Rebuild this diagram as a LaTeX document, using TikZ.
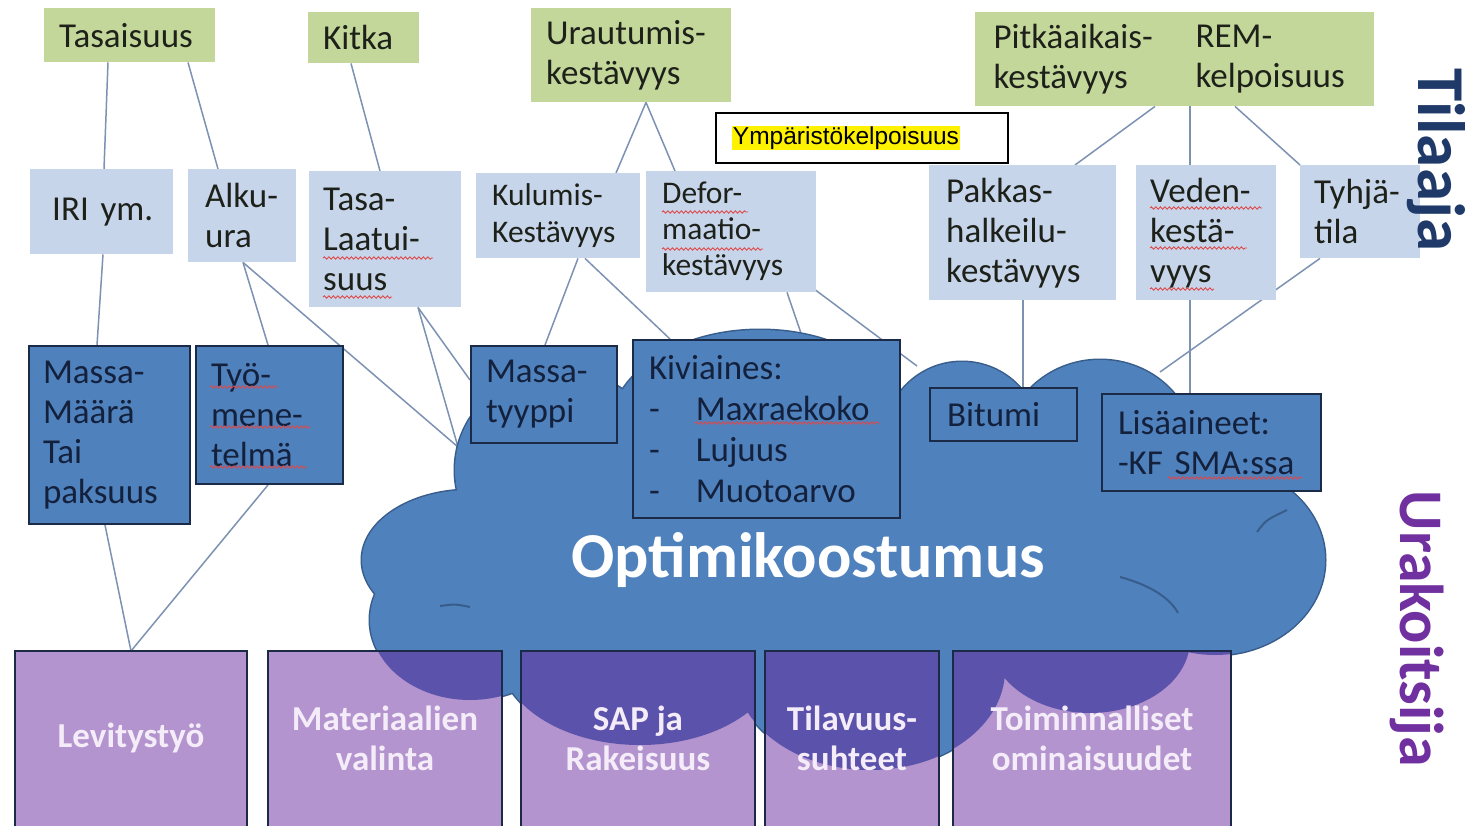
\documentclass[tikz,border=0pt]{standalone}
\usepackage{fontspec}
\setmainfont{Carlito}
\newfontfamily\arialf{Liberation Sans}
\usetikzlibrary{calc,decorations.pathmorphing}
\pgfdeclarelayer{conns}
\pgfdeclarelayer{cloudl}
\pgfsetlayers{conns,cloudl,main}
\definecolor{cgreen}{HTML}{C4D79B}
\definecolor{clblue}{HTML}{C6D5EA}
\definecolor{cblue}{HTML}{4F81BD}
\definecolor{cblueline}{HTML}{385D8A}
\definecolor{cborder}{HTML}{1B2A47}
\definecolor{cline}{HTML}{7D92B3}
\definecolor{cpurple}{HTML}{B394CE}
\definecolor{cpurpledark}{HTML}{5B52AB}
\definecolor{cpurptext}{HTML}{F4ECF8}
\definecolor{ctilaaja}{HTML}{1F3A68}
\definecolor{curak}{HTML}{7030A0}
\definecolor{ctext}{HTML}{1E211A}
\definecolor{cdtext}{HTML}{14213D}
\definecolor{cspell}{HTML}{E04848}
\def\cloudlist{470/560/108/70, 560/470/105/100, 760/430/150/100, 962/440/78/78, 1100/450/95/90, 1215/560/110/95, 1090/640/100/73, 870/670/135/100, 640/655/140/90, 470/620/100/80}
\begin{document}
\begin{tikzpicture}[x=1pt,y=-1pt,
  bx/.style={rectangle, inner ysep=0pt, anchor=north west, align=left, text=ctext},
  f35/.style={font=\fontsize{35}{40}\selectfont},
  f31/.style={font=\fontsize{31.5}{37}\selectfont},
  f31b/.style={font=\fontsize{31.5}{36}\selectfont},
  gbox/.style={bx, fill=cgreen, f35},
  lbox/.style={bx, fill=clblue, f35},
  dbox/.style={bx, fill=cblue, draw=cborder, line width=2pt, text=cdtext, f35},
  pbox/.style={rectangle, inner sep=0pt, anchor=north west, fill=cpurple},
  ptext/.style={align=center, text=cpurptext, font=\bfseries\fontsize{35}{40}\selectfont},
  conn/.style={draw=cline, line width=1.5pt},
  spell/.style={draw=cspell, line width=0.9pt, decorate, decoration={snake, amplitude=1.2pt, segment length=4.5pt}},
]
\begin{pgfonlayer}{conns}
\useasboundingbox (0,0) rectangle (1474,821);
\fill[white] (0,0) rectangle (1474,821);
\end{pgfonlayer}

% ---------- top (green) boxes ----------
\node[gbox, inner xsep=15pt, text width=141pt, minimum height=54pt] (tas) at (44,8) {Tasaisuus};
\node[gbox, inner xsep=15pt, text width=81pt, minimum height=51pt] (kit) at (308,12) {Kitka};
\node[gbox, inner xsep=15pt, text width=170pt, minimum height=94pt] (ura) at (531,8) {Urautumis-\\kestävyys};
\node[gbox, inner xsep=0pt, text width=399pt, minimum height=94pt] (pit) at (975,12) {};
\node[bx, f35, anchor=west] (pitA) at (990,59) {Pitkäaikais-\\kestävyys};
\node[bx, f35, anchor=west] (pitB) at (1192,59) {REM-\\kelpoisuus};

% ---------- Ympäristökelpoisuus ----------
\node[draw=black, line width=2pt, fill=white, anchor=north west, minimum width=292pt, minimum height=50pt, inner sep=0pt] (ymp) at (715,112) {};
\node[fill=yellow, inner xsep=0.5pt, inner ysep=1pt, font=\arialf\fontsize{24.5}{27}\selectfont] (ympT) at ([xshift=-16pt]ymp.center) {Ympäristökelpoisuus};

% ---------- light blue boxes ----------
\node[lbox, inner xsep=22pt, text width=99pt, minimum height=85pt] (iri) at (30,169) {\mbox{IRI ym.}};
\node[lbox, inner xsep=17pt, text width=74pt, minimum height=93pt] (alk) at (188,169) {Alku-\\ura};
\node[lbox, inner xsep=14pt, text width=124pt, minimum height=136pt] (tll) at (309,171) {Tasa-\\Laatui-\\suus};
\node[lbox, f31, inner xsep=16pt, text width=132pt, minimum height=85pt] (kul) at (476,173) {Kulumis-\\Kestävyys};
\node[lbox, f31b, inner xsep=16pt, text width=138pt, minimum height=121pt] (def) at (646,171) {Defor-\\maatio-\\kestävyys};
\node[lbox, inner xsep=17pt, text width=153pt, minimum height=135pt] (pak) at (929,165) {Pakkas-\\halkeilu-\\kestävyys};
\node[lbox, inner xsep=14pt, text width=112pt, minimum height=135pt] (ved) at (1136,165) {Veden-\\kestä-\\vyys};
\node[lbox, inner xsep=14pt, text width=92pt, minimum height=93pt] (tyh) at (1300,165) {Tyhjä-\\tila};

% ---------- cloud anchor points ----------
\coordinate (c1) at (458,447);
\coordinate (c2) at (917,366);
\coordinate (c3) at (1160,372);

% ---------- cloud ----------
\begin{pgfonlayer}{cloudl}
\foreach \x/\y/\rx/\ry in \cloudlist
  {\draw[cblueline, line width=3pt] (\x,\y) ellipse [x radius=\rx pt, y radius=\ry pt];}
\fill[cblue] foreach \x/\y/\rx/\ry in \cloudlist
  {(\x,\y) ellipse [x radius=\rx pt, y radius=\ry pt]} (840,560) ellipse [x radius=360pt, y radius=130pt];
\draw[cblueline, line width=2pt] (1257,532) .. controls (1266,520) .. (1287,510);
\draw[cblueline, line width=2pt] (1120,577) .. controls (1150,585) and (1170,598) .. (1178,613);
\draw[cblueline, line width=2pt] (440,606) .. controls (455,604) .. (470,607);
\end{pgfonlayer}

% ---------- dark blue boxes ----------
\node[dbox, inner xsep=14pt, text width=133pt, minimum height=178pt] (mas) at (28,345) {Massa-\\Määrä\\Tai\\paksuus};
\node[dbox, inner xsep=15pt, text width=117pt, minimum height=138pt] (tyo) at (195,345) {Työ-\\mene-\\telmä};
\node[dbox, inner xsep=15pt, text width=116pt, minimum height=97pt] (mty) at (470,345) {Massa-\\tyyppi};
\node[dbox, inner xsep=16pt, text width=235pt, minimum height=178pt, font=\fontsize{35}{41}\selectfont] (kiv) at (632,339)
  {Kiviaines:\\\makebox[47pt][l]{-}Maxraekoko\\\makebox[47pt][l]{-}Lujuus\\\makebox[47pt][l]{-}Muotoarvo};
\node[dbox, inner xsep=17pt, text width=113pt, minimum height=53pt] (bit) at (929,387) {Bitumi};
\node[dbox, inner xsep=16pt, text width=187pt, minimum height=97pt] (lis) at (1101,393) {Lisäaineet:\\-KF SMA:ssa};

\node[text=white, font=\bfseries\fontsize{64}{70}\selectfont] (opt) at (808,560) {Optimikoostumus};

% ---------- bottom (purple) boxes ----------
\node[pbox, minimum width=232pt, minimum height=175pt] (lev) at (15,651) {};
\node[pbox, minimum width=234pt, minimum height=175pt] (mat) at (268,651) {};
\node[pbox, minimum width=234pt, minimum height=175pt] (sap) at (521,651) {};
\node[pbox, minimum width=174pt, minimum height=175pt] (til) at (765,651) {};
\node[pbox, minimum width=278pt, minimum height=175pt] (toi) at (953,651) {};
\begin{scope}
  \clip foreach \x/\y/\rx/\ry in \cloudlist
    {(\x,\y) ellipse [x radius=\rx pt, y radius=\ry pt]} (840,560) ellipse [x radius=360pt, y radius=130pt];
  \foreach \b in {mat,sap,til,toi}
    {\fill[cpurpledark] (\b.north west) rectangle (\b.south east);}
\end{scope}
\foreach \b in {lev,mat,sap,til,toi}
  {\draw[cborder, line width=2pt] (\b.south west) -- (\b.north west) -- (\b.north east) -- (\b.south east);}
\node[ptext] (levT) at (131,738) {Levitystyö};
\node[ptext] (matT) at (385,738) {Materiaalien\\valinta};
\node[ptext] (sapT) at (638,738) {SAP ja\\Rakeisuus};
\node[ptext] (tilT) at (852,738) {Tilavuus-\\suhteet};
\node[ptext] (toiT) at (1092,738) {Toiminnalliset\\ominaisuudet};

% ---------- side labels ----------
\node[rotate=-90, text=ctilaaja, font=\bfseries\fontsize{67}{70}\selectfont] (tilaaja) at (1436,160) {Tilaaja};
\node[rotate=-90, text=curak, font=\bfseries\fontsize{62}{66}\selectfont] (urak) at (1417,629) {Urakoitsija};

% ---------- connectors ----------
\begin{pgfonlayer}{conns}
\path[conn] ([xshift=64pt]tas.south west) -- ([xshift=74pt]iri.north west);
\path[conn] ([xshift=144pt]tas.south west) -- ([xshift=30pt]alk.north west);
\path[conn] ([xshift=43pt]kit.south west) -- ([xshift=71pt]tll.north west);
\path[conn] ([xshift=115pt]ura.south west) -- ([xshift=140pt]kul.north west);
\path[conn] ([xshift=115pt]ura.south west) -- ([xshift=29pt]def.north west);
\path[conn] ([xshift=180pt]pit.south west) -- ([xshift=146pt]pak.north west);
\path[conn] ([xshift=215pt]pit.south west) -- ([xshift=54pt]ved.north west);
\path[conn] ([xshift=260pt]pit.south west) -- (tyh.north west);
\path[conn] ([xshift=73pt]iri.south west) -- ([xshift=69pt]mas.north west);
\path[conn] ([xshift=55pt]alk.south west) -- ([xshift=73pt]tyo.north west);
\path[conn] ([xshift=55pt]alk.south west) -- (c1);
\path[conn] ([xshift=109pt]tll.south west) -- ([yshift=-35pt]mty.north west);
\path[conn] ([xshift=109pt]tll.south west) -- (c1);
\path[conn] ([xshift=102pt]kul.south west) -- ([xshift=75pt]mty.north west);
\path[conn] ([xshift=109pt]kul.south west) -- ([xshift=38pt]kiv.north west);
\path[conn] ([xshift=141pt]def.south west) -- ([xshift=171pt]kiv.north west);
\path[conn] ([xshift=166pt,yshift=5pt]def.south west) -- (c2);
\path[conn] ([xshift=94pt]pak.south west) -- ([xshift=94pt]bit.north west);
\path[conn] ([xshift=54pt]ved.south west) -- ([xshift=89pt]lis.north west);
\path[conn] ([xshift=20pt]tyh.south west) -- (c3);
\path[conn] ([xshift=77pt]mas.south west) -- ([xshift=116pt]lev.north west);
\path[conn] ([xshift=73pt]tyo.south west) -- ([xshift=116pt]lev.north west);
\end{pgfonlayer}

% ---------- spell-check underlines ----------
\draw[spell] (323,258) -- (433,258);
\draw[spell] (323,297) -- (392,297);
\draw[spell] (662,212) -- (748,212);
\draw[spell] (662,249) -- (763,249);
\draw[spell] (1150,208) -- (1262,208);
\draw[spell] (1150,248) -- (1247,248);
\draw[spell] (1150,289) -- (1214,289);
\draw[spell] (210,387) -- (278,387);
\draw[spell] (210,427) -- (310,427);
\draw[spell] (210,467) -- (307,467);
\draw[spell] (695,423) -- (880,423);
\draw[spell] (1168,478) -- (1302,478);
\end{tikzpicture}
\end{document}
